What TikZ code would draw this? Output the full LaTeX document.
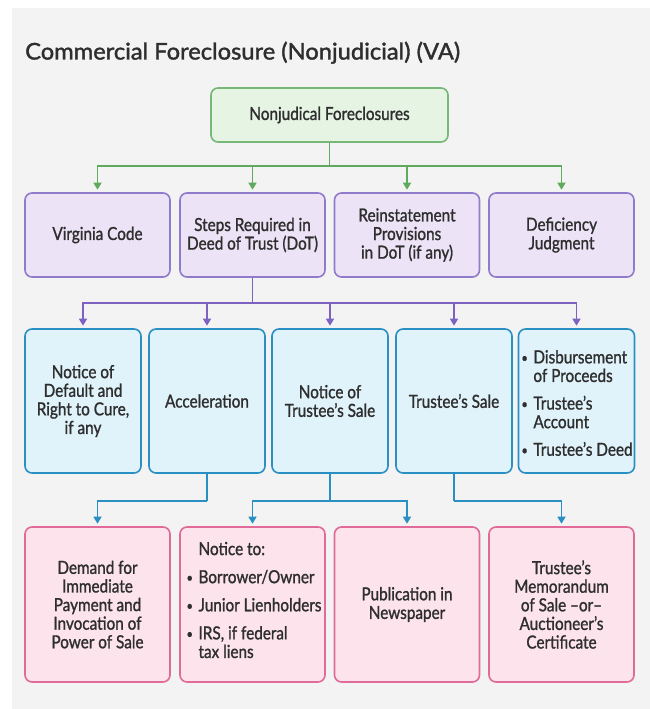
\documentclass[tikz,border=0pt]{standalone}
\usepackage{fontspec}
\setmainfont{Lato}
\newfontfamily\boxfont{Lato}[FakeStretch=0.85, FakeBold=1.2]
\newfontfamily\titlefont{Lato}[FakeBold=1.6, FakeStretch=1.03]
\usetikzlibrary{arrows.meta}
\definecolor{bg}{HTML}{F3F3F3}
\definecolor{txt}{HTML}{2E2E2E}
\definecolor{gline}{HTML}{5FAA5F}
\definecolor{gfill}{HTML}{E5F4E3}
\definecolor{pline}{HTML}{7D62C2}
\definecolor{pfill}{HTML}{ECE4F6}
\definecolor{bline}{HTML}{2A90C3}
\definecolor{bfill}{HTML}{E0F3FB}
\definecolor{kline}{HTML}{E06A98}
\definecolor{kfill}{HTML}{FCE3EC}
\newcommand\mybul{\makebox[12pt][l]{\raisebox{1pt}{\fontsize{13}{13}\selectfont•}}}
\newcommand\mynobul{\hspace*{12pt}}
\tikzset{
  boxtext/.style={text=txt, font=\boxfont\fontsize{18}{18.6}\selectfont},
  box/.style={rounded corners=7pt, line width=1.6pt, align=center, inner sep=0pt, boxtext},
  gbox/.style={box, draw=gline!85, fill=gfill},
  pbox/.style={box, draw=pline!85, fill=pfill},
  bbox/.style={box, draw=bline, fill=bfill},
  kbox/.style={box, draw=kline, fill=kfill},
  conn/.style={line width=1.5pt, -{Triangle[width=8pt,length=7pt]}, shorten >=2.5pt},
  seg/.style={line width=1.5pt},
}
\begin{document}
\begin{tikzpicture}[x=1pt,y=-1pt]
\useasboundingbox (0,0) rectangle (650,709);
\fill[white] (0,0) rectangle (650,709);
\fill[bg] (12,8) rectangle (650,709);

\node[anchor=base west, text=txt, font=\titlefont\fontsize{23}{26}\selectfont, inner sep=0pt] (title) at (25,59.5) {Commercial Foreclosure (Nonjudicial) (VA)};

% top
\node[gbox, minimum width=237pt, minimum height=54pt] (top) at (329.5,115) {Nonjudical Foreclosures};

% row 2
\tikzset{r2/.style={pbox, minimum width=145pt, minimum height=84pt}}
\node[r2] (va) at (97.5,235) {Virginia Code};
\node[r2] (steps) at (252.5,235) {Steps Required in\\Deed of Trust (DoT)};
\node[r2] (rein) at (407,235) {Reinstatement\\Provisions\\in DoT (if any)};
\node[r2] (defi) at (561.5,235) {Deficiency\\Judgment};

% row 3
\tikzset{r3/.style={bbox, minimum width=116pt, minimum height=144pt}}
\node[r3] (nod) at (83,401) {Notice of\\Default and\\Right to Cure,\\if any};
\node[r3] (acc) at (207,401) {Acceleration};
\node[r3] (nts) at (330,401) {Notice of\\Trustee’s Sale};
\node[r3] (tsale) at (454,401) {Trustee’s Sale};
\node[r3] (disb) at (576.5,401) {};
\node[boxtext, align=left, inner sep=0pt] (disbt) at (577,403)
  {\mybul Disbursement\\\mynobul of Proceeds\\[9pt]\mybul Trustee’s\\\mynobul Account\\[9pt]\mybul Trustee’s Deed};

% row 4
\tikzset{r4/.style={kbox, minimum width=145pt, minimum height=155pt}}
\node[r4] (dem) at (97.5,604.5) {Demand for\\Immediate\\Payment and\\Invocation of\\Power of Sale};
\node[r4] (notto) at (252.5,604.5) {};
\node[boxtext, align=left, inner sep=0pt] (nottot) at (254,600)
  {\mynobul Notice to:\\[9.5pt]\mybul Borrower/Owner\\[9.5pt]\mybul Junior Lienholders\\[9.5pt]\mybul IRS, if federal\\\mynobul tax liens};
\node[r4] (pub) at (407,604.5) {Publication in\\Newspaper};
\node[r4] (memo) at (561.5,604.5) {Trustee’s\\Memorandum\\of Sale –or–\\Auctioneer’s\\Certificate};

% green connectors
\draw[seg, gline] (top.south) -- ++(0,23) coordinate (gj);
\foreach \t in {va,steps,rein,defi} \draw[conn, gline] (gj) -| (\t.north);

% purple connectors
\draw[seg, pline] (steps.south) -- ++(0,25) coordinate (pj);
\foreach \t in {nod,acc,nts,tsale,disb} \draw[conn, pline] (pj) -| (\t.north);

% blue connectors
\draw[seg, bline] (acc.south) -- ++(0,27) coordinate (bj1);
\draw[conn, bline] (bj1) -| (dem.north);
\draw[seg, bline] (nts.south) -- ++(0,27) coordinate (bj2);
\draw[conn, bline] (bj2) -| (notto.north);
\draw[conn, bline] (bj2) -| (pub.north);
\draw[seg, bline] (tsale.south) -- ++(0,27) coordinate (bj3);
\draw[conn, bline] (bj3) -| (memo.north);
\end{tikzpicture}
\end{document}
